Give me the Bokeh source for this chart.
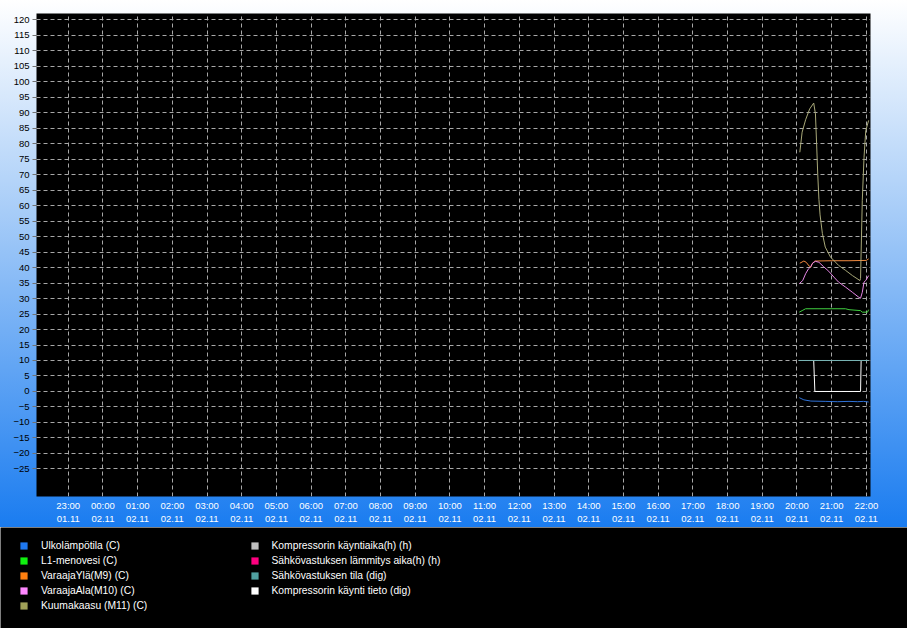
from bokeh.plotting import figure
from bokeh.models import Range1d, FixedTicker, Legend, LegendItem
from bokeh.layouts import column
from bokeh.embed import file_html
from bokeh.resources import INLINE

# ---------------- data ----------------
x_tick_labels = ["23:00\n01.11", "00:00\n02.11", "01:00\n02.11", "02:00\n02.11",
                 "03:00\n02.11", "04:00\n02.11", "05:00\n02.11", "06:00\n02.11",
                 "07:00\n02.11", "08:00\n02.11", "09:00\n02.11", "10:00\n02.11",
                 "11:00\n02.11", "12:00\n02.11", "13:00\n02.11", "14:00\n02.11",
                 "15:00\n02.11", "16:00\n02.11", "17:00\n02.11", "18:00\n02.11",
                 "19:00\n02.11", "20:00\n02.11", "21:00\n02.11", "22:00\n02.11"]
y_ticks = [-25, -20, -15, -10, -5, 0, 5, 10, 15, 20, 25, 30, 35, 40, 45, 50,
           55, 60, 65, 70, 75, 80, 85, 90, 95, 100, 105, 110, 115, 120]

# times on 02.11
ulko_t = ["20:04", "20:12", "20:24", "20:50", "21:10", "21:30", "21:45", "21:55", "22:04"]
ulko_v = [-2.0, -2.7, -3.1, -3.2, -3.3, -3.2, -3.3, -3.2, -3.4]

l1_t = ["20:04", "20:09", "20:15", "21:24", "21:30", "21:50", "21:53", "22:02", "22:04"]
l1_v = [25.6, 26.1, 26.7, 26.7, 26.4, 26.1, 25.6, 25.6, 26.4]

yla_t = ["20:05", "20:12", "20:16", "20:21", "20:24", "20:26", "20:31", "21:00", "21:30", "22:00", "22:04"]
yla_v = [41.4, 42.1, 41.7, 40.5, 40.1, 41.2, 42.1, 42.2, 42.2, 42.3, 42.8]

ala_t = ["20:04", "20:10", "20:15", "20:20", "20:24", "20:27", "20:32", "20:38", "20:46",
         "20:55", "21:04", "21:12", "21:24", "21:36", "21:47", "21:50", "21:53", "21:56",
         "21:59", "22:04"]
ala_v = [34.8, 35.8, 38.0, 39.6, 40.3, 41.4, 42.0, 41.7, 40.3, 38.8, 36.9, 35.3, 33.7,
         32.0, 30.4, 30.1, 32.0, 35.3, 35.8, 37.4]

kuuma_t = ["20:05", "20:09", "20:15", "20:22", "20:29", "20:32", "20:34", "20:36", "20:38",
           "20:40", "20:44", "20:49", "20:58", "21:12", "21:24", "21:36", "21:49", "21:50",
           "21:53", "21:56", "21:59", "22:04"]
kuuma_v = [77.2, 83.7, 87.7, 91.2, 93.1, 89.6, 80.0, 70.0, 62.0, 57.0, 51.0, 46.6, 43.4,
           40.7, 39.1, 37.4, 35.8, 36.5, 61.7, 75.6, 84.2, 87.5]

kaynti_aika_t = []
kaynti_aika_v = []

lammitys_aika_t = []
lammitys_aika_v = []

tila_t = ["20:03", "22:04"]
tila_v = [10, 10]

tieto_t = ["20:03", "20:29", "20:30", "20:31", "21:50", "21:51", "22:04"]
tieto_v = [10, 10, 5, 0, 0, 10, 10]

names = ["Ulkolämpötila (C)", "L1-menovesi (C)", "VaraajaYlä(M9) (C)",
         "VaraajaAla(M10) (C)", "Kuumakaasu (M11) (C)",
         "Kompressorin käyntiaika(h) (h)", "Sähkövastuksen lämmitys aika(h) (h)",
         "Sähkövastuksen tila (dig)", "Kompressorin käynti tieto (dig)"]
swatch_colors = ["#1e78f0", "#10f010", "#ff8010", "#ff88ff", "#a0a058",
                 "#c0c0c0", "#ff0080", "#50a0a0", "#ffffff"]
line_colors = ["#2f72d8", "#40d040", "#f08a40", "#e888e8", "#a8a878",
               "#c0c0c0", "#ff0080", "#78b4b4", "#ffffff"]


def to_hours(t):
    """hours since 23:00 01.11 for a time on 02.11"""
    hh, mm = t.split(":")
    return int(hh) + int(mm) / 60.0 + 1.0


FONT = "Liberation Sans"

# ---------------- chart ----------------
p = figure(width=907, height=527,
           x_range=Range1d(-0.914, 23.12), y_range=Range1d(-33.9, 122.0),
           output_backend="svg", toolbar_location=None,
           min_border_left=36, min_border_right=37, min_border_top=13, min_border_bottom=31)
p.background_fill_color = "black"
p.border_fill_color = None
p.outline_line_color = None
p.styles = {"background": "linear-gradient(to bottom, #ffffff 0px, #a8cdf8 210px, #1a7cf0 100%)"}

x_ticks = list(range(len(x_tick_labels)))
p.xaxis.ticker = FixedTicker(ticks=x_ticks)
p.xaxis.major_label_overrides = {t: lbl for t, lbl in zip(x_ticks, x_tick_labels)}
p.xaxis.axis_line_color = None
p.xaxis.major_tick_line_color = None
p.xaxis.major_tick_out = 0
p.xaxis.major_tick_in = 0
p.xaxis.minor_tick_line_color = None
p.xaxis.minor_tick_out = 0
p.xaxis.major_label_standoff = 3
p.xaxis.major_label_text_color = "white"
p.xaxis.major_label_text_font = FONT
p.xaxis.major_label_text_font_size = "9.5px"
p.xaxis.major_label_text_line_height = 1.2

p.yaxis.ticker = FixedTicker(ticks=y_ticks)
p.yaxis.axis_line_color = None
p.yaxis.major_tick_line_color = "#707070"
p.yaxis.major_tick_out = 4
p.yaxis.major_tick_in = 0
p.yaxis.minor_tick_line_color = None
p.yaxis.minor_tick_out = 0
p.yaxis.major_label_standoff = 3
p.yaxis.major_label_text_color = "black"
p.yaxis.major_label_text_font = FONT
p.yaxis.major_label_text_font_size = "9.5px"

for g in (p.xgrid, p.ygrid):
    g.grid_line_color = "#a8a8a8"
    g.grid_line_dash = "4 3"
    g.grid_line_width = 1

series = [(ulko_t, ulko_v), (l1_t, l1_v), (yla_t, yla_v), (ala_t, ala_v),
          (kuuma_t, kuuma_v), (kaynti_aika_t, kaynti_aika_v),
          (lammitys_aika_t, lammitys_aika_v), (tieto_t, tieto_v), (tila_t, tila_v)]
order_colors = [line_colors[0], line_colors[1], line_colors[2], line_colors[3],
                line_colors[4], line_colors[5], line_colors[6], line_colors[8], line_colors[7]]
for (ts, vs), c in zip(series, order_colors):
    p.line([to_hours(t) for t in ts], vs, line_color=c, line_width=1)

# ---------------- legend strip ----------------
p2 = figure(width=907, height=101, x_range=Range1d(0, 1), y_range=Range1d(0, 1),
            output_backend="svg", toolbar_location=None, min_border=0,
            x_axis_location=None, y_axis_location=None)
p2.grid.visible = False
p2.background_fill_color = "black"
p2.border_fill_color = "black"
p2.outline_line_color = None

aligned = True
for fig in (p, p2):
    if "frame_align" in fig.properties():
        fig.frame_align = False
        aligned = False
x_shift = 36 if aligned else 0

# legend swatches: square glyphs with no drawable position (NaN), used only by the legend
nan = float("nan")
items = []
for name, c in zip(names, swatch_colors):
    r = p2.quad(left=[nan], right=[nan], top=[nan], bottom=[nan], fill_color=c, line_color=None)
    items.append(LegendItem(label=name, renderers=[r]))


def make_legend(its, loc):
    lg = Legend(items=its, location=loc, orientation="vertical")
    lg.padding = 0
    lg.margin = 0
    lg.spacing = 0
    lg.glyph_width = 9
    lg.glyph_height = 9
    lg.label_height = 15
    lg.label_standoff = 13
    lg.label_text_color = "white"
    lg.label_text_font = FONT
    lg.label_text_font_size = "10.3px"
    lg.background_fill_alpha = 0
    lg.border_line_color = None
    return lg


p2.add_layout(make_legend(items[:5], (19 - x_shift, 15.5)))
p2.add_layout(make_legend(items[5:], (249.5 - x_shift, 30.5)))

layout = column(p, p2, spacing=0)
open("out.html", "w").write(file_html(layout, INLINE))
